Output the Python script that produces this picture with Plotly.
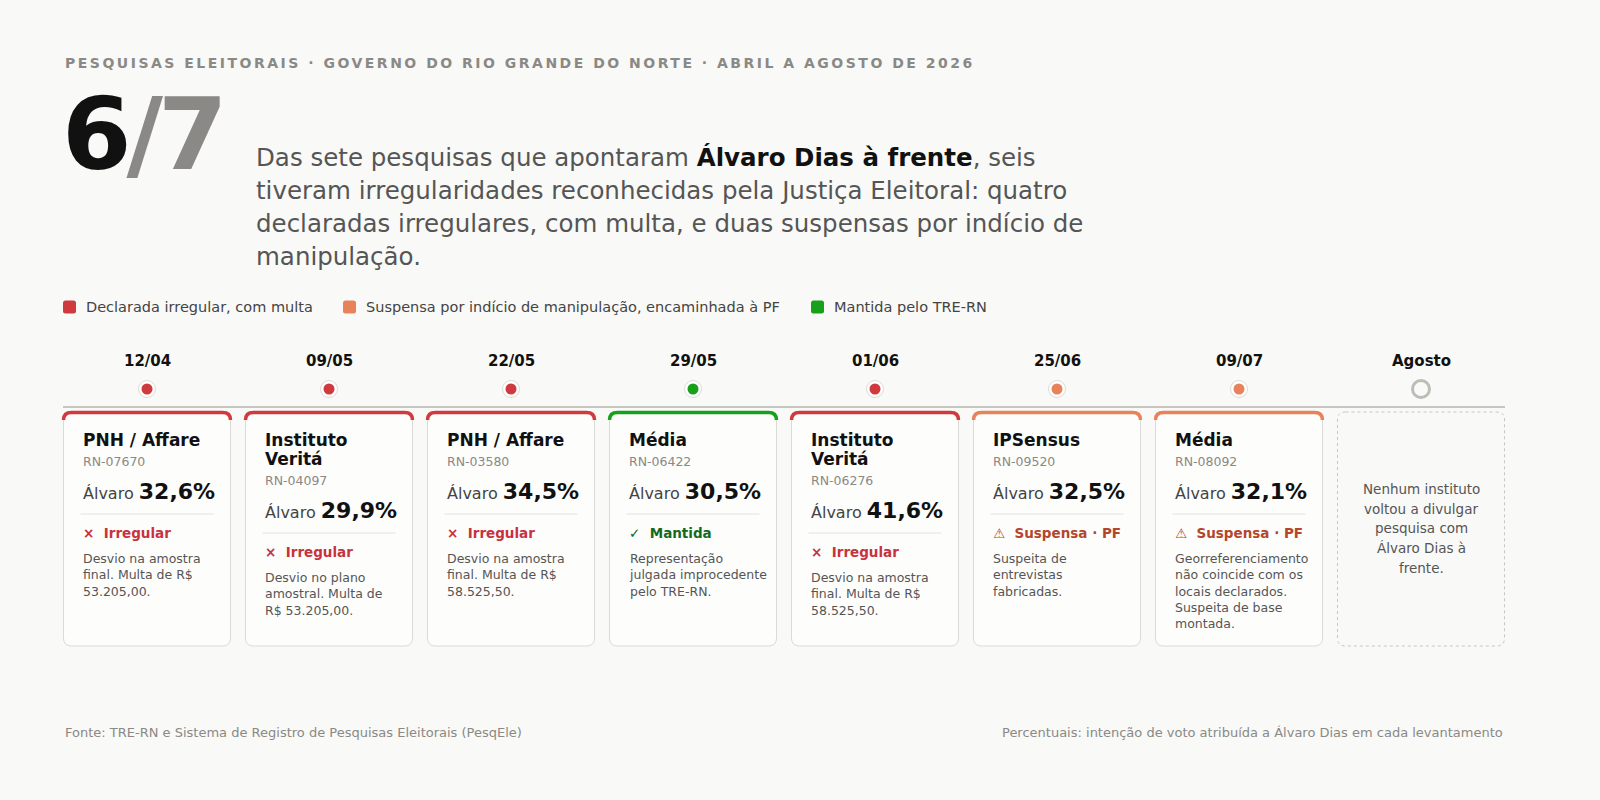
import plotly.graph_objects as go

# ---- data ----
dates = ["12/04", "09/05", "22/05", "29/05", "01/06", "25/06", "09/07", "Agosto"]
institutos = ["PNH / Affare", "Instituto<br>Veritá", "PNH / Affare", "Média",
              "Instituto<br>Veritá", "IPSensus", "Média"]
registros = ["RN-07670", "RN-04097", "RN-03580", "RN-06422", "RN-06276", "RN-09520", "RN-08092"]
alvaro = [32.6, 29.9, 34.5, 30.5, 41.6, 32.5, 32.1]
status = ["irregular", "irregular", "irregular", "mantida", "irregular", "suspensa", "suspensa"]
descricoes = [
    "Desvio na amostra<br>final. Multa de R$<br>53.205,00.",
    "Desvio no plano<br>amostral. Multa de<br>R$ 53.205,00.",
    "Desvio na amostra<br>final. Multa de R$<br>58.525,50.",
    "Representação<br>julgada improcedente<br>pelo TRE-RN.",
    "Desvio na amostra<br>final. Multa de R$<br>58.525,50.",
    "Suspeita de<br>entrevistas<br>fabricadas.",
    "Georreferenciamento<br>não coincide com os<br>locais declarados.<br>Suspeita de base<br>montada.",
]
agosto_texto = ["Nenhum instituto", "voltou a divulgar", "pesquisa com", "Álvaro Dias à", "frente."]

status_cor = {"irregular": "#cf3a3f", "suspensa": "#e8825a", "mantida": "#17a01a"}
status_txt_cor = {"irregular": "#c8323c", "suspensa": "#b5462b", "mantida": "#146a1c"}
status_label = {"irregular": "×  Irregular", "suspensa": "⚠  Suspensa · PF", "mantida": "✓  Mantida"}
legenda = [("irregular", "Declarada irregular, com multa", 63),
           ("suspensa", "Suspensa por indício de manipulação, encaminhada à PF", 343),
           ("mantida", "Mantida pelo TRE-RN", 811)]

BG = "#f9f9f7"
GRAY = "#8a8985"
FONT = "DejaVu Sans"

W, H = 1600, 800
STEP = 182.0          # px between card centres
C0 = 147.0            # px of first card centre
HALF = 83.5 / STEP    # half card width in x units
PAD = 17 / STEP


def rpath(x0, y0, x1, y1, rx, ry):
    return (f"M{x0+rx},{y0} L{x1-rx},{y0} Q{x1},{y0} {x1},{y0+ry} L{x1},{y1-ry} "
            f"Q{x1},{y1} {x1-rx},{y1} L{x0+rx},{y1} Q{x0},{y1} {x0},{y1-ry} "
            f"L{x0},{y0+ry} Q{x0},{y0} {x0+rx},{y0} Z")


fig = go.Figure()
shapes = []
ann = []

# timeline
shapes.append(dict(type="line", xref="paper", yref="y", x0=63 / W, x1=1505 / W, y0=407, y1=407,
                   line=dict(color="#c8c6c0", width=2), layer="below"))

# dots
n = len(alvaro)
fig.add_trace(go.Scatter(x=list(range(n)), y=[389] * n, mode="markers", hoverinfo="skip",
                         marker=dict(size=17, color="white", line=dict(color="#dedcd7", width=1))))
fig.add_trace(go.Scatter(x=list(range(n)), y=[389] * n, mode="markers", hoverinfo="skip",
                         marker=dict(size=11, color=[status_cor[s] for s in status], line=dict(width=0))))
fig.add_trace(go.Scatter(x=[n], y=[389], mode="markers", hoverinfo="skip",
                         marker=dict(size=17, color=BG, line=dict(color="#bdbcb5", width=3))))

for i, d in enumerate(dates):
    ann.append(dict(x=i, y=361, xref="x", yref="y", text=f"<b>{d}</b>", showarrow=False,
                    font=dict(size=15, color="#111", family=FONT), xanchor="center", yanchor="middle"))

rx, ry = 8 / STEP, 8
for i in range(n):
    x0, x1 = i - HALF, i + HALF
    shapes.append(dict(type="path", xref="x", yref="y", path=rpath(x0, 412, x1, 646, rx, ry),
                       fillcolor="#fdfdfc", line=dict(color="#dcdad5", width=1), layer="below"))
    shapes.append(dict(type="path", xref="x", yref="y",
                       path=f"M{x0},{420} Q{x0},{412.5} {x0+rx},{412.5} L{x1-rx},{412.5} Q{x1},{412.5} {x1},{420}",
                       line=dict(color=status_cor[status[i]], width=3.5), layer="below"))
    tx = x0 + PAD
    lines = institutos[i].split("<br>")
    dy = 19 * (len(lines) - 1)
    for k, t in enumerate(lines):
        ann.append(dict(x=tx, y=440 + 19 * k, xref="x", yref="y", text=f"<b>{t}</b>", showarrow=False,
                        font=dict(size=17, color="#111", family=FONT), xanchor="left", yanchor="middle"))
    ann.append(dict(x=tx, y=461 + dy, xref="x", yref="y", text=registros[i], showarrow=False,
                    font=dict(size=12.5, color=GRAY, family=FONT), xanchor="left", yanchor="middle"))
    val = f"{alvaro[i]:.1f}".replace(".", ",") + "%"
    ann.append(dict(x=tx, y=491 + dy, xref="x", yref="y",
                    text=f"Álvaro <span style='font-size:22px;color:#111'><b>{val}</b></span>",
                    showarrow=False, font=dict(size=16, color="#444", family=FONT),
                    xanchor="left", yanchor="middle"))
    shapes.append(dict(type="line", xref="x", yref="y", x0=tx, x1=x1 - PAD, y0=514 + dy, y1=514 + dy,
                       line=dict(color="#e4e2de", width=1)))
    ann.append(dict(x=tx, y=533 + dy, xref="x", yref="y", text=f"<b>{status_label[status[i]]}</b>",
                    showarrow=False, font=dict(size=13.5, color=status_txt_cor[status[i]], family=FONT),
                    xanchor="left", yanchor="middle"))
    ann.append(dict(x=tx, y=549 + dy, xref="x", yref="y", text=descricoes[i], showarrow=False, align="left",
                    font=dict(size=12.5, color="#555", family=FONT), xanchor="left", yanchor="top"))

# Agosto card
shapes.append(dict(type="path", xref="x", yref="y", path=rpath(n - HALF, 412, n + HALF, 646, rx, ry),
                   fillcolor="rgba(0,0,0,0)", line=dict(color="#c8c6c0", width=1, dash="dot"), layer="below"))
for k, t in enumerate(agosto_texto):
    ann.append(dict(x=n, y=489 + 19.7 * k, xref="x", yref="y", text=t, showarrow=False,
                    font=dict(size=13.5, color="#555", family=FONT), xanchor="center", yanchor="middle"))

# header
ann.append(dict(x=63 / W, y=63, xref="paper", yref="y",
                text="<span style='letter-spacing:2.5px'><b>PESQUISAS ELEITORAIS · GOVERNO DO RIO GRANDE DO NORTE · ABRIL A AGOSTO DE 2026</b></span>",
                showarrow=False, font=dict(size=14, color=GRAY, family=FONT), xanchor="left", yanchor="middle"))
ann.append(dict(x=60 / W, y=134, xref="paper", yref="y",
                text=f"<span style='letter-spacing:-5px'><b>6<span style='color:{GRAY}'>/7</span></b></span>",
                showarrow=False, font=dict(size=100, color="#111", family=FONT), xanchor="left", yanchor="middle"))
lead = ["Das sete pesquisas que apontaram <b style='color:#111'>Álvaro Dias à frente</b>, seis",
        "tiveram irregularidades reconhecidas pela Justiça Eleitoral: quatro",
        "declaradas irregulares, com multa, e duas suspensas por indício de",
        "manipulação."]
for k, t in enumerate(lead):
    ann.append(dict(x=254 / W, y=157 + 33 * k, xref="paper", yref="y", text=t, showarrow=False,
                    font=dict(size=24.5, color="#555", family=FONT), xanchor="left", yanchor="middle"))

# legend
for key, label, px in legenda:
    shapes.append(dict(type="path", xref="paper", yref="y",
                       path=rpath(px / W, 300.5, (px + 13) / W, 313.5, 2.5 / W, 2.5),
                       fillcolor=status_cor[key], line=dict(width=0)))
    ann.append(dict(x=(px + 21) / W, y=307, xref="paper", yref="y", text=label, showarrow=False,
                    font=dict(size=14.5, color="#444", family=FONT), xanchor="left", yanchor="middle"))

# footer
ann.append(dict(x=63 / W, y=732, xref="paper", yref="y",
                text="Fonte: TRE-RN e Sistema de Registro de Pesquisas Eleitorais (PesqEle)",
                showarrow=False, font=dict(size=13, color=GRAY, family=FONT), xanchor="left", yanchor="middle"))
ann.append(dict(x=1505 / W, y=732, xref="paper", yref="y",
                text="Percentuais: intenção de voto atribuída a Álvaro Dias em cada levantamento",
                showarrow=False, font=dict(size=13, color=GRAY, family=FONT), xanchor="right", yanchor="middle"))

fig.update_layout(
    width=W, height=H, margin=dict(l=0, r=0, t=0, b=0),
    paper_bgcolor=BG, plot_bgcolor=BG, showlegend=False,
    xaxis=dict(range=[-C0 / STEP, (W - C0) / STEP], visible=False, fixedrange=True),
    yaxis=dict(range=[H, 0], visible=False, fixedrange=True),
    shapes=shapes, annotations=ann,
)

fig.write_html("out.html", config={"displayModeBar": False},
               post_script="document.body.style.margin='0';document.body.style.overflow='hidden';")
